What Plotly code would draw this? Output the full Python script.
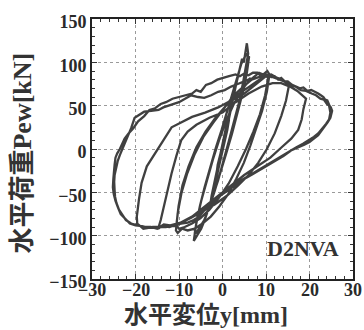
import plotly.graph_objects as go

# ---- data (displacement y [mm], load Pew [kN]), cycle by cycle ----
c1_x = [0.0, 0.5, 1.0, 1.5, 1.1, 0.5, -0.2, -0.8, -1.4, -1.1, -0.5, 0.1]
c1_y = [0, 12, 24, 34, 22, 8, -8, -20, -30, -18, -6, 4]

c2_x = [1.0, 1.9, 2.7, 3.2, 2.6, 1.7, 0.7, -0.4, -1.4, -2.3, -3.0, -2.5, -1.6, -0.5]
c2_y = [24, 46, 64, 76, 60, 38, 14, -12, -34, -54, -70, -54, -32, -6]

c3_x = [0.6, 1.7, 2.7, 3.4, 4.1, 4.5, 4.9, 5.3, 5.6, 5.9, 5.4, 4.7, 3.7, 2.6, 1.4, 0.2, -1.0,
        -2.2, -3.2, -4.1, -4.9, -5.6, -6.3, -6.6, -6.1, -5.2, -4.1, -2.8, -1.5]
c3_y = [20, 44, 66, 82, 96, 104, 100, 112, 122, 110, 94, 76, 52, 30, 8, -14, -36,
        -54, -70, -82, -92, -98, -104, -106, -88, -66, -44, -20, 2]

c4_x = [-0.2, 1.2, 2.4, 3.5, 4.3, 4.9, 5.5, 6.1, 5.6, 4.7, 3.5, 2.2, 0.8, -0.6, -1.9, -3.1,
        -4.2, -5.2, -5.9, -6.4, -5.9, -4.9, -3.6, -2.2]
c4_y = [22, 46, 68, 86, 98, 104, 110, 106, 88, 66, 42, 18, -6, -30, -50, -68,
        -82, -90, -96, -98, -82, -60, -36, -12]

c5_x = [-0.8, 0.8, 2.6, 4.4, 6.0, 7.3, 8.4, 9.4, 10.3, 10.8, 10.2, 9.1, 7.8, 6.4, 4.9, 3.2,
        1.3, -0.7, -2.7, -4.6, -6.4, -8.0, -9.3, -10.3, -10.7, -10.3, -9.4, -8.1, -6.4, -4.4, -2.2]
c5_y = [10, 32, 52, 68, 78, 84, 88, 86, 90, 86, 66, 44, 24, 4, -16, -34,
        -52, -66, -78, -86, -92, -94, -92, -97, -94, -74, -50, -28, -6, 14, 30]

c6_x = [0.2, 2.6, 4.8, 6.7, 8.3, 9.6, 10.5, 9.8, 8.6, 7.1, 5.4, 3.5, 1.4, -0.8, -3.0, -5.1,
        -7.0, -8.7, -10.0, -10.6, -10.1, -9.2, -7.8, -6.0, -3.9, -1.6]
c6_y = [46, 62, 72, 80, 83, 86, 82, 62, 40, 20, 0, -20, -40, -56, -70, -80,
        -86, -90, -92, -88, -66, -42, -20, 2, 20, 36]

c7_x = [0.8, 3.2, 5.6, 7.8, 9.6, 11.2, 12.6, 13.8, 14.8, 15.3, 14.6, 13.5, 12.0, 10.2, 8.2,
        6.0, 3.6, 1.0, -1.8, -4.6, -7.4, -10.0, -12.2, -14.0, -14.8, -14.2, -13.5, -12.6,
        -11.7, -10.6, -9.5, -8.0, -6.0, -3.0, 0.0]
c7_y = [50, 62, 70, 78, 84, 86, 82, 80, 76, 74, 56, 38, 18, 0, -16,
        -30, -42, -54, -64, -72, -80, -86, -90, -89, -92, -82, -67, -46,
        -28, -8, 10, 20, 28, 36, 42]

c8_x = [3.0, 6.0, 9.0, 11.5, 13.5, 15.5, 17.2, 18.4, 19.2, 18.6, 18.2, 17.4, 15.8, 13.6, 11.0,
        8.0, 5.0, 2.0, -1.0, -4.0, -7.0, -10.0, -13.0, -16.0, -18.2, -19.6, -19.7, -19.2,
        -18.6, -17.4, -15.6, -13.6, -11.7, -9.4, -7.0, -4.0, -1.0, 2.0, 5.0, 7.0]
c8_y = [54, 64, 72, 76, 76, 72, 67, 62, 58, 46, 34, 22, 12, 2, -10,
        -20, -30, -42, -54, -66, -78, -86, -90, -90, -92, -86, -78, -58,
        -39, -20, -5, 10, 25, 31, 37, 42, 48, 56, 64, 72]

c9_x = [8.0, 9.0, 9.8, 10.5, 11.2, 12.0, 12.8, 13.5, 14.3, 15.0, 16.0, 17.0, 17.8, 18.6, 19.5,
        20.4, 21.3, 22.0, 22.6, 23.2, 23.6, 24.1, 24.6, 24.9, 25.2, 25.0, 24.8, 24.2, 23.5, 22.8,
        22.0, 21.0, 20.0, 18.8, 17.5, 16.0, 14.0, 12.0, 10.0, 8.5, 7.0, 5.6, 4.4, 3.2, 2.0,
        0.6, -0.8, -2.0, -3.0, -4.2, -5.4, -6.6, -8.0, -9.5, -11.0, -12.5, -14.0, -15.5, -17.0,
        -18.5, -20.0, -21.3, -22.5, -23.4, -24.0, -24.6, -25.0, -25.2, -25.1, -25.0, -24.8,
        -24.6, -24.2, -23.6, -23.0, -22.5, -21.6, -20.5, -19.4, -18.0, -16.8, -15.5, -14.2,
        -13.0, -11.5, -10.0, -8.6, -7.0, -6.0, -5.0, -3.8, -2.6, -1.2, 0.0, 1.5, 3.0, 4.0,
        5.0, 6.0, 7.0]
c9_y = [76, 80, 84, 86, 83, 84, 80, 82, 78, 78, 74, 72, 70, 71, 67,
        68, 66, 64, 62, 60, 57, 56, 50, 48, 44, 40, 36, 31, 26, 22,
        16, 12, 8, 5, 2, -1, -8, -14, -21, -25, -29, -33, -36, -41, -45,
        -50, -55, -60, -66, -71, -78, -82, -85, -86, -89, -88, -90, -91, -91,
        -89, -88, -86, -80, -75, -68, -60, -52, -44, -35, -26, -18,
        -10, -5, 0, 6, 12, 18, 24, 32, 38, 45, 47, 52,
        54, 58, 60, 62, 64, 68, 66, 74, 76, 80, 82, 84, 86, 84,
        87, 85, 88]

c10_x = [8.0, 9.0, 10.0, 11.0, 12.0, 13.0, 14.2, 15.5, 16.8, 18.0, 19.2, 20.5, 21.5, 22.5, 23.3,
         24.0, 24.5, 24.8, 24.6, 24.5, 23.8, 23.0, 22.0, 21.0, 19.8, 18.5, 17.0, 15.0, 13.0,
         11.0, 9.0, 7.0, 5.0, 3.0, 1.5, 0.0, -1.5, -3.0, -4.5, -6.0, -7.5, -9.0, -10.5, -12.0,
         -13.5, -15.0, -16.5, -18.0, -19.5, -21.0, -22.2, -23.0, -23.8, -24.4, -24.7, -24.8,
         -24.9, -24.8, -24.5, -24.1, -23.6, -23.0, -22.4, -21.7, -21.0, -20.2, -19.0, -18.0,
         -16.4, -14.7, -13.6, -12.5, -11.2, -10.0, -8.6, -7.2, -5.6, -4.2, -2.6, -1.0, 0.5,
         2.0, 3.5, 5.0, 6.0, 6.5]
c10_y = [88, 84, 86, 84, 82, 80, 78, 74, 72, 68, 67, 64, 62, 58, 57,
         52, 50, 42, 38, 34, 29, 24, 18, 14, 10, 6, 2, -4, -9,
         -16, -21, -27, -33, -40, -46, -52, -58, -64, -70, -76, -80, -84, -86, -88,
         -87, -92, -90, -90, -88, -86, -82, -76, -70, -62, -55, -48,
         -38, -30, -22, -14, -7, 0, 7, 14, 24, 36, 40, 43,
         44, 45, 48, 50, 52, 54, 58, 62, 60, 59, 62, 66, 68,
         72, 75, 78, 80, 82]

x_ticks = [-30, -20, -10, 0, 10, 20, 30]
y_ticks = [-150, -100, -50, 0, 50, 100, 150]

x_title = "水平変位y[mm]"
y_title = "水平荷重Pew[kN]"
specimen = "D2NVA"

# ---- build path ----
cycles_x = [c1_x, c2_x, c3_x, c4_x, c5_x, c6_x, c7_x, c8_x, c9_x, c10_x]
cycles_y = [c1_y, c2_y, c3_y, c4_y, c5_y, c6_y, c7_y, c8_y, c9_y, c10_y]
disp, load = [], []
for cx, cy in zip(cycles_x, cycles_y):
    n = min(len(cx), len(cy))
    disp += cx[:n]
    load += cy[:n]

fig = go.Figure()
fig.add_trace(go.Scatter(
    x=disp, y=load, mode="lines",
    line=dict(color="#404040", width=2.3),
    showlegend=False, hoverinfo="skip",
))

serif = "Liberation Serif, Noto Sans CJK JP, serif"
tickfont = dict(family=serif, size=18, color="#2a2a2a", weight="bold")

axis_common = dict(
    showline=True, linecolor="#222", linewidth=2, mirror="allticks",
    ticks="inside", ticklen=5, tickwidth=1.3, tickcolor="#333",
    showgrid=True, gridcolor="#9a9a9a", griddash="dot", gridwidth=1,
    zeroline=False, tickfont=tickfont,
)

fig.update_xaxes(range=[-30, 30], tickvals=x_ticks, showticklabels=False,
                 minor=dict(dtick=2, ticks="inside", ticklen=3, tickcolor="#333", showgrid=False),
                 **axis_common)
fig.update_yaxes(range=[-150, 150], tickvals=y_ticks, ticklabelshift=3,
                 minor=dict(dtick=10, ticks="inside", ticklen=3, tickcolor="#333", showgrid=False),
                 **axis_common)

L, R, T, B = 92, 9, 19, 51
W, H = 364, 330
pw, ph = W - L - R, H - T - B

def px(x):
    return (x - L) / pw

def py(y):
    return (H - B - y) / ph

annotations = [
    dict(text=("\u2212" + str(abs(v))) if v < 0 else str(v), xref="x", yref="paper",
         x=v, y=py(290), xanchor="center", yanchor="middle", showarrow=False,
         font=tickfont)
    for v in x_ticks
]
annotations += [
    dict(text="<b>" + x_title + "</b>", xref="paper", yref="paper",
         x=px(207), y=py(315), xanchor="center", yanchor="middle",
         showarrow=False, font=dict(family=serif, size=24, color="#333")),
    dict(text="<b>" + y_title + "</b>", xref="paper", yref="paper",
         x=px(21), y=py(153), xanchor="center", yanchor="middle", textangle=-90,
         showarrow=False, font=dict(family=serif, size=26, color="#333")),
    dict(text="<b>" + specimen + "</b>", xref="paper", yref="paper",
         x=px(305), y=py(248), xanchor="center", yanchor="middle",
         showarrow=False, font=dict(family=serif, size=22, color="#333")),
]

fig.update_layout(
    width=W, height=H,
    margin=dict(l=L, r=R, t=T, b=B),
    paper_bgcolor="white", plot_bgcolor="white",
    annotations=annotations,
)

fig.write_html("out.html")
